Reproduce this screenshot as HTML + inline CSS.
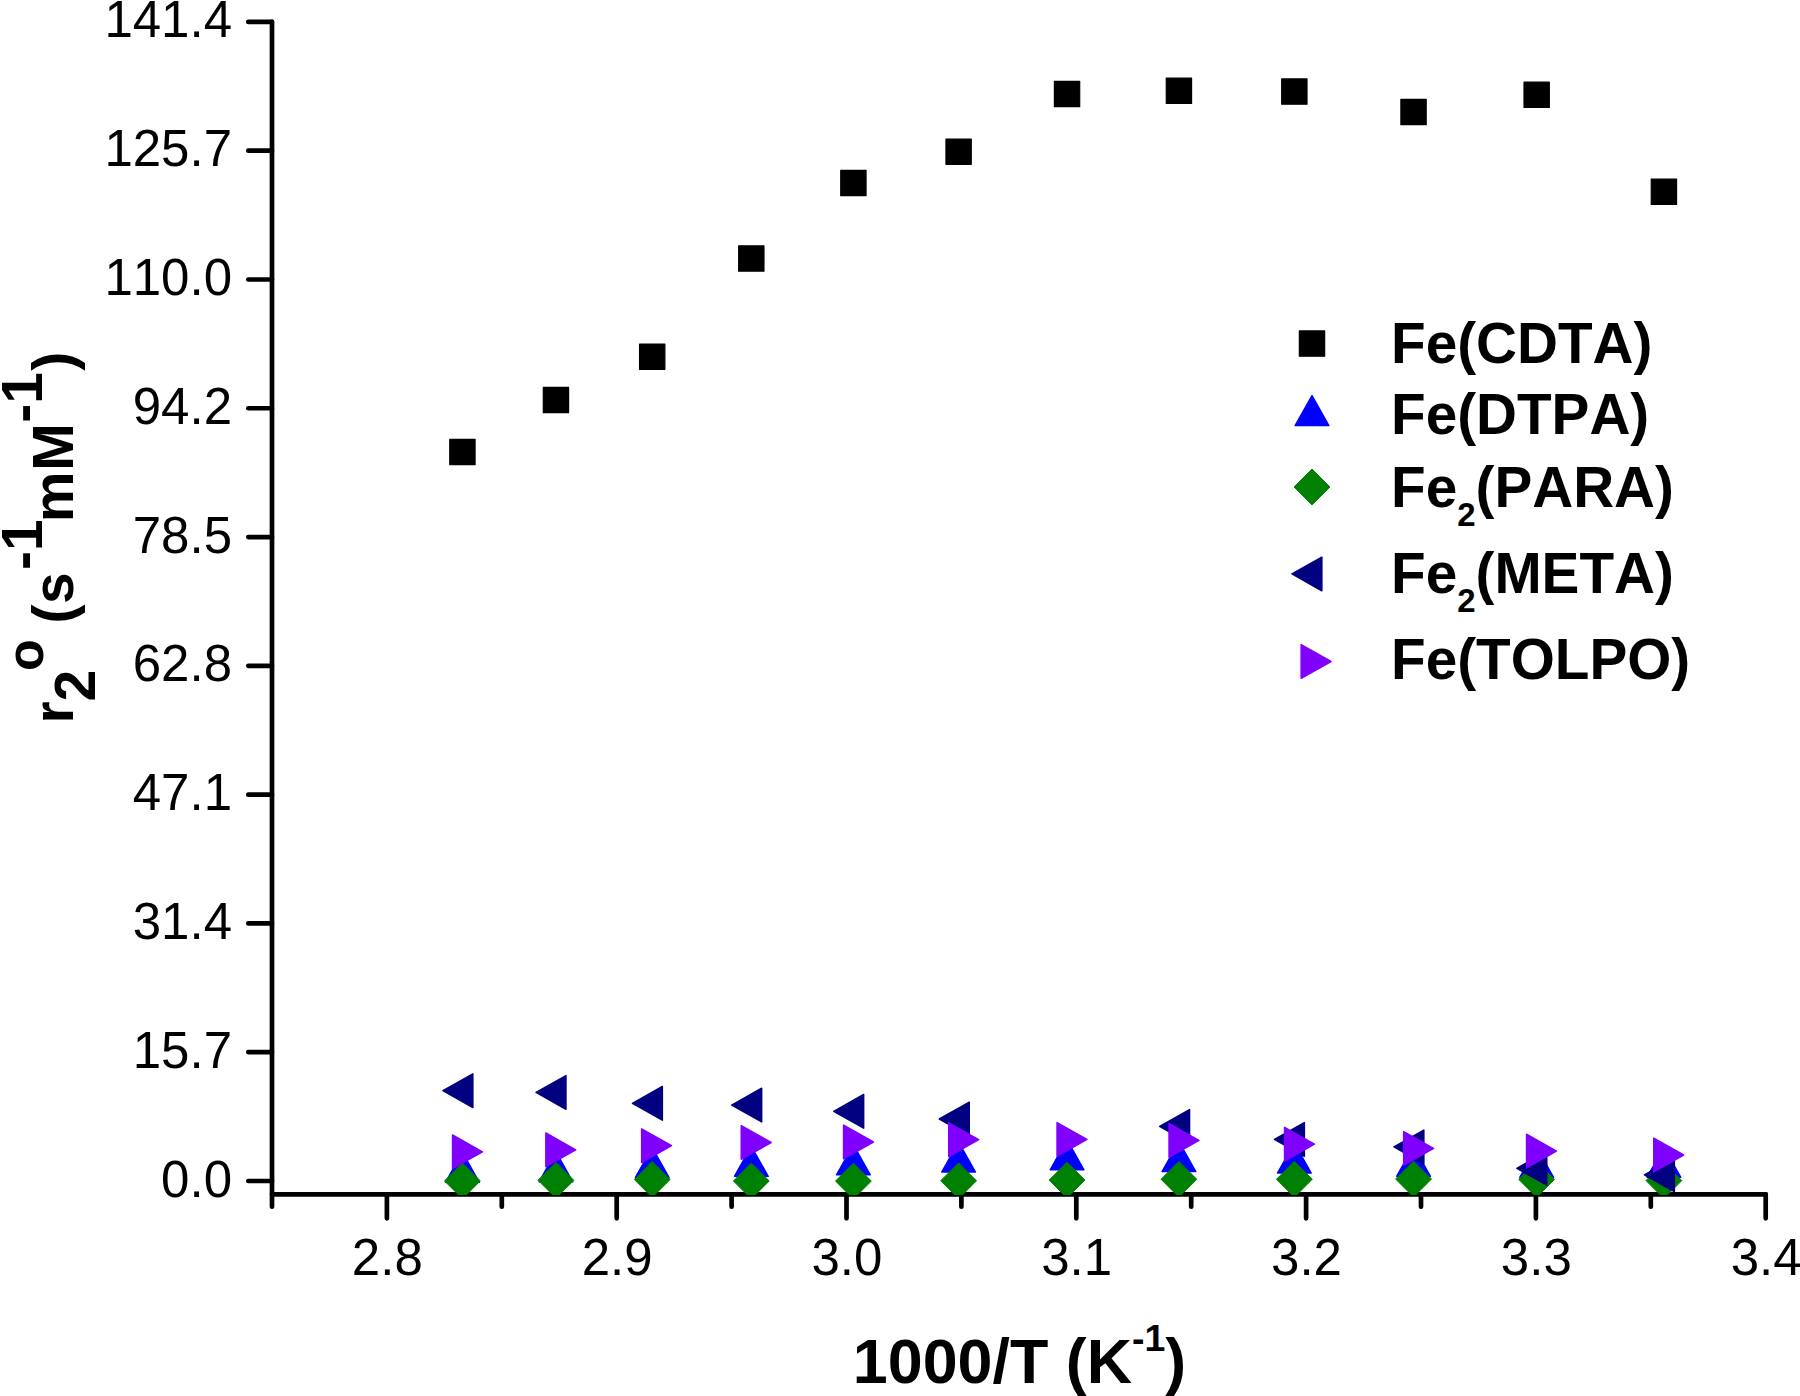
<!DOCTYPE html>
<html lang="en"><head><meta charset="utf-8"><title>r2o vs 1000/T</title>
<style>
html,body{margin:0;padding:0;background:#fff;}
body{width:1800px;height:1396px;overflow:hidden;}
svg{display:block;}
text{font-family:"Liberation Sans",Arial,Helvetica,sans-serif;fill:#000;font-kerning:none;}
.tk{font-size:51px;}
.b{font-weight:bold;}
</style></head><body>
<svg width="1800" height="1396" viewBox="0 0 1800 1396">
<defs><clipPath id="plot"><rect x="272" y="0" width="1600" height="1195"/></clipPath></defs>
<rect width="1800" height="1396" fill="#fff"/>
<g stroke="#000" stroke-width="4.7" stroke-linecap="round" stroke-linejoin="round" fill="none">
<path d="M272,21.9 V1194.3 H1765.7"/>
<path d="M272,21.9 H248.3 M272,150.69 H248.3 M272,279.48 H248.3 M272,408.27 H248.3 M272,537.06 H248.3 M272,665.84 H248.3 M272,794.63 H248.3 M272,923.42 H248.3 M272,1052.21 H248.3 M272,1181 H248.3"/>
<path d="M272,1194.3 V1206.7 M386.9,1194.3 V1218.3 M501.8,1194.3 V1206.7 M616.7,1194.3 V1218.3 M731.6,1194.3 V1206.7 M846.5,1194.3 V1218.3 M961.4,1194.3 V1206.7 M1076.3,1194.3 V1218.3 M1191.2,1194.3 V1206.7 M1306.1,1194.3 V1218.3 M1421,1194.3 V1206.7 M1535.9,1194.3 V1218.3 M1650.8,1194.3 V1206.7 M1765.7,1194.3 V1218.3"/>
</g>
<g class="tk" text-anchor="end">
<text x="232" y="37.4">141.4</text>
<text x="232" y="166.19">125.7</text>
<text x="232" y="294.98">110.0</text>
<text x="232" y="423.77">94.2</text>
<text x="232" y="552.56">78.5</text>
<text x="232" y="681.34">62.8</text>
<text x="232" y="810.13">47.1</text>
<text x="232" y="938.92">31.4</text>
<text x="232" y="1067.71">15.7</text>
<text x="232" y="1196.5">0.0</text>
</g>
<g class="tk" text-anchor="middle">
<text x="387.3" y="1275">2.8</text>
<text x="617.1" y="1275">2.9</text>
<text x="846.9" y="1275">3.0</text>
<text x="1076.7" y="1275">3.1</text>
<text x="1306.5" y="1275">3.2</text>
<text x="1536.3" y="1275">3.3</text>
<text x="1766.1" y="1275">3.4</text>
</g>
<text class="b" x="852.8" y="1382.6" font-size="62.8">1000/T (K<tspan font-size="37.5" dy="-31.3">-1</tspan><tspan dy="31.3">)</tspan></text>
<text class="b" transform="translate(72.9,723.6) rotate(-90)" font-size="57">r<tspan dy="21.8" dx="-0.2">2</tspan><tspan dy="-51.8" dx="-1.1" font-size="52">o</tspan><tspan dy="30" dx="-0.1 0 0.4"> (s</tspan><tspan dy="-31.2" dx="2.5">-1</tspan><tspan dy="31.2" dx="-2.9 0.8">mM</tspan><tspan dy="-31.2" dx="0.3 0.1">-1</tspan><tspan dy="31.2" dx="1.4">)</tspan></text>
<g clip-path="url(#plot)" stroke-linejoin="round">
<g fill="#000" stroke="#000" stroke-width="1.2">
<rect x="449.77" y="439.35" width="25.3" height="25.3"/>
<rect x="543.3" y="387.35" width="25.3" height="25.3"/>
<rect x="639.56" y="344.05" width="25.3" height="25.3"/>
<rect x="738.67" y="245.85" width="25.3" height="25.3"/>
<rect x="840.75" y="170.35" width="25.3" height="25.3"/>
<rect x="945.95" y="139.05" width="25.3" height="25.3"/>
<rect x="1054.4" y="81.35" width="25.3" height="25.3"/>
<rect x="1166.27" y="78.15" width="25.3" height="25.3"/>
<rect x="1281.7" y="78.95" width="25.3" height="25.3"/>
<rect x="1400.89" y="99.35" width="25.3" height="25.3"/>
<rect x="1524.01" y="82.15" width="25.3" height="25.3"/>
<rect x="1651.26" y="179.15" width="25.3" height="25.3"/>
</g>
<g fill="#0000ff" stroke="#0000ff" stroke-width="1.5">
<polygon points="462.42,1152.35 479.27,1182.25 445.57,1182.25"/>
<polygon points="555.95,1151.85 572.8,1181.75 539.1,1181.75"/>
<polygon points="652.21,1147.65 669.06,1177.55 635.36,1177.55"/>
<polygon points="751.32,1146.45 768.17,1176.35 734.47,1176.35"/>
<polygon points="853.4,1144.85 870.25,1174.75 836.55,1174.75"/>
<polygon points="958.6,1142.15 975.45,1172.05 941.75,1172.05"/>
<polygon points="1067.05,1139.85 1083.9,1169.75 1050.2,1169.75"/>
<polygon points="1178.92,1141.65 1195.77,1171.55 1162.07,1171.55"/>
<polygon points="1294.35,1143.15 1311.2,1173.05 1277.5,1173.05"/>
<polygon points="1413.54,1146.35 1430.39,1176.25 1396.69,1176.25"/>
<polygon points="1536.66,1147.35 1553.51,1177.25 1519.81,1177.25"/>
<polygon points="1663.91,1147.35 1680.76,1177.25 1647.06,1177.25"/>
</g>
<g fill="#008000" stroke="#008000" stroke-width="1">
<polygon points="462.42,1163 480.32,1180.9 462.42,1198.8 444.52,1180.9"/>
<polygon points="555.95,1162.4 573.85,1180.3 555.95,1198.2 538.05,1180.3"/>
<polygon points="652.21,1161.6 670.11,1179.5 652.21,1197.4 634.31,1179.5"/>
<polygon points="751.32,1163.1 769.22,1181 751.32,1198.9 733.42,1181"/>
<polygon points="853.4,1163.2 871.3,1181.1 853.4,1199 835.5,1181.1"/>
<polygon points="958.6,1162.9 976.5,1180.8 958.6,1198.7 940.7,1180.8"/>
<polygon points="1067.05,1162.2 1084.95,1180.1 1067.05,1198 1049.15,1180.1"/>
<polygon points="1178.92,1161.4 1196.82,1179.3 1178.92,1197.2 1161.02,1179.3"/>
<polygon points="1294.35,1161.4 1312.25,1179.3 1294.35,1197.2 1276.45,1179.3"/>
<polygon points="1413.54,1161.2 1431.44,1179.1 1413.54,1197 1395.64,1179.1"/>
<polygon points="1536.66,1161.5 1554.56,1179.4 1536.66,1197.3 1518.76,1179.4"/>
<polygon points="1663.91,1162.7 1681.81,1180.6 1663.91,1198.5 1646.01,1180.6"/>
</g>
<g fill="#000080" stroke="#000080" stroke-width="1.5">
<polygon points="442.95,1090.7 472.85,1073.85 472.85,1107.55"/>
<polygon points="536.05,1092.4 565.95,1075.55 565.95,1109.25"/>
<polygon points="632.45,1103.3 662.35,1086.45 662.35,1120.15"/>
<polygon points="731.75,1105.1 761.65,1088.25 761.65,1121.95"/>
<polygon points="833.75,1111.3 863.65,1094.45 863.65,1128.15"/>
<polygon points="939.35,1119 969.25,1102.15 969.25,1135.85"/>
<polygon points="1159.65,1126.4 1189.55,1109.55 1189.55,1143.25"/>
<polygon points="1274.45,1139.4 1304.35,1122.55 1304.35,1156.25"/>
<polygon points="1393.95,1146.9 1423.85,1130.05 1423.85,1163.75"/>
<polygon points="1516.85,1168.3 1546.75,1151.45 1546.75,1185.15"/>
<polygon points="1644.45,1174.8 1674.35,1157.95 1674.35,1191.65"/>
</g>
<g fill="#8000ff" stroke="#8000ff" stroke-width="1.5">
<polygon points="482.45,1151.8 452.55,1134.95 452.55,1168.65"/>
<polygon points="575.75,1149.8 545.85,1132.95 545.85,1166.65"/>
<polygon points="671.55,1145.7 641.65,1128.85 641.65,1162.55"/>
<polygon points="771.15,1142.5 741.25,1125.65 741.25,1159.35"/>
<polygon points="873.45,1142 843.55,1125.15 843.55,1158.85"/>
<polygon points="978.65,1139.7 948.75,1122.85 948.75,1156.55"/>
<polygon points="1086.95,1139.4 1057.05,1122.55 1057.05,1156.25"/>
<polygon points="1198.95,1140.4 1169.05,1123.55 1169.05,1157.25"/>
<polygon points="1314.45,1144.2 1284.55,1127.35 1284.55,1161.05"/>
<polygon points="1433.55,1148.4 1403.65,1131.55 1403.65,1165.25"/>
<polygon points="1556.45,1151.1 1526.55,1134.25 1526.55,1167.95"/>
<polygon points="1683.65,1155 1653.75,1138.15 1653.75,1171.85"/>
</g>
</g>
<g stroke-linejoin="round">
<g fill="#000" stroke="#000" stroke-width="1.2"><rect x="1299.35" y="330.95" width="25.3" height="25.3"/></g>
<g fill="#0000ff" stroke="#0000ff" stroke-width="1.5"><polygon points="1312,395.65 1328.85,425.55 1295.15,425.55"/></g>
<g fill="#008000" stroke="#008000" stroke-width="1"><polygon points="1312,469.1 1329.9,487 1312,504.9 1294.1,487"/></g>
<g fill="#000080" stroke="#000080" stroke-width="1.5"><polygon points="1291.95,573.9 1321.85,557.05 1321.85,590.75"/></g>
<g fill="#8000ff" stroke="#8000ff" stroke-width="1.5"><polygon points="1331.05,661.5 1301.15,644.65 1301.15,678.35"/></g>
</g>
<g class="b" font-size="56.7">
<text x="1391" y="362.7">Fe(CDTA)</text>
<text x="1391" y="433.5">Fe(DTPA)</text>
<text x="1391" y="506.5">Fe<tspan font-size="33" dy="19">2</tspan><tspan dy="-19">(PARA)</tspan></text>
<text x="1391" y="592.8">Fe<tspan font-size="33" dy="19">2</tspan><tspan dy="-19">(META)</tspan></text>
<text x="1391" y="679.3">Fe(TOLPO)</text>
</g>
</svg>
</body></html>
